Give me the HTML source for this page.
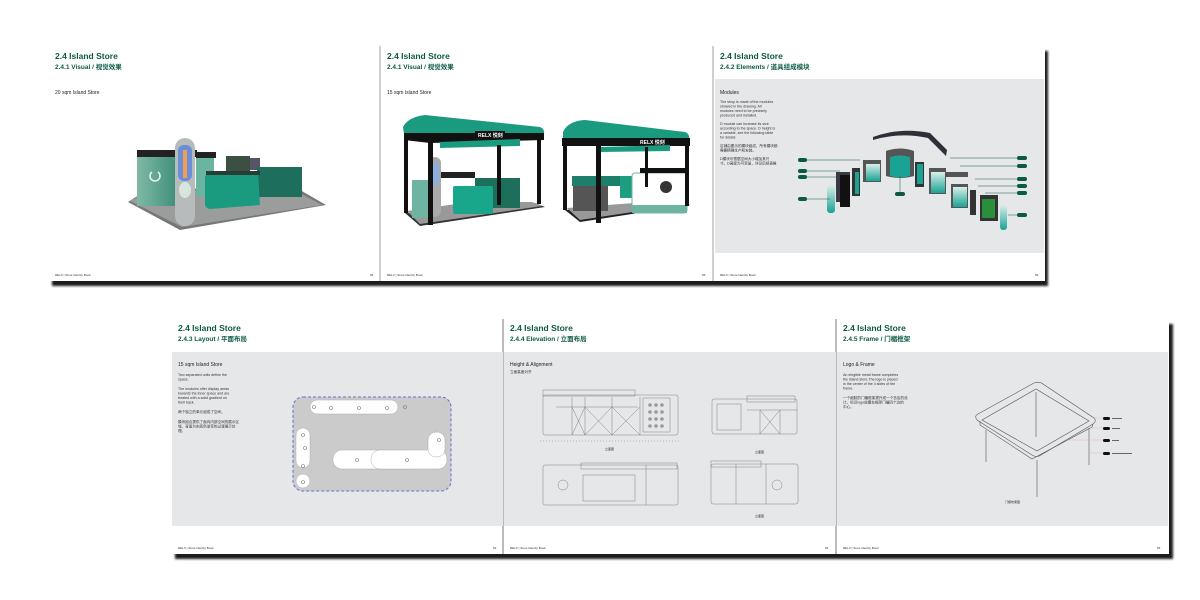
<!DOCTYPE html>
<html><head><meta charset="utf-8"><style>
html,body{margin:0;padding:0;background:#fff;width:1200px;height:600px;overflow:hidden}
svg{display:block}
.t1{font:bold 8.5px "Liberation Sans","Noto Sans CJK SC",sans-serif;fill:#0b5a45}
.t2{font:bold 6.5px "Liberation Sans","Noto Sans CJK SC",sans-serif;fill:#0b5a45}
.h{font:5px "Liberation Sans","Noto Sans CJK SC",sans-serif;fill:#222}
.p{font:3.6px "Liberation Sans","Noto Sans CJK SC",sans-serif;fill:#333}
.f{font:3px "Liberation Sans",sans-serif;fill:#333}
</style></head><body>
<svg width="1200" height="600" viewBox="0 0 1200 600" xmlns="http://www.w3.org/2000/svg">
<defs>
<filter id="sh" x="-5%" y="-5%" width="110%" height="115%"><feGaussianBlur stdDeviation="1"/></filter>
<linearGradient id="gw" x1="0" x2="1"><stop offset="0" stop-color="#7fb9a6"/><stop offset="1" stop-color="#3f8f7a"/></linearGradient>
<linearGradient id="tl" x1="0" y1="0" x2="0" y2="1"><stop offset="0" stop-color="#d8efea"/><stop offset="1" stop-color="#1aa394"/></linearGradient>
</defs>
<g filter="url(#sh)" fill="#1e1e1e">
<rect x="52" y="51" width="996" height="235"/>
<rect x="175" y="324" width="998" height="235"/>
</g>
<rect x="48" y="46" width="332" height="235" fill="#fff"/>
<rect x="380" y="46" width="333" height="235" fill="#fff"/>
<rect x="713" y="46" width="332" height="235" fill="#fff"/>
<rect x="171" y="319" width="332" height="235" fill="#fff"/>
<rect x="503" y="319" width="333" height="235" fill="#fff"/>
<rect x="836" y="319" width="333" height="235" fill="#fff"/>
<line x1="380" y1="46" x2="380" y2="281" stroke="#888" stroke-width="0.8"/>
<line x1="713" y1="46" x2="713" y2="281" stroke="#888" stroke-width="0.8"/>
<line x1="503" y1="319" x2="503" y2="554" stroke="#555" stroke-width="0.8"/>
<line x1="836" y1="319" x2="836" y2="554" stroke="#555" stroke-width="0.8"/>
<rect x="715" y="79" width="329" height="174" fill="#e6e7e8"/>
<rect x="172" y="352" width="331" height="174" fill="#e6e7e8"/>
<rect x="504" y="352" width="332" height="174" fill="#e6e7e8"/>
<rect x="837" y="352" width="331" height="174" fill="#e6e7e8"/>

<text x="55" y="59" class="t1">2.4 Island Store</text><text x="55" y="69" class="t2">2.4.1 Visual / 视觉效果</text>
<text x="387" y="59" class="t1">2.4 Island Store</text><text x="387" y="69" class="t2">2.4.1 Visual / 视觉效果</text>
<text x="720" y="59" class="t1">2.4 Island Store</text><text x="720" y="69" class="t2">2.4.2 Elements / 道具组成模块</text>
<text x="178" y="331" class="t1">2.4 Island Store</text><text x="178" y="341" class="t2">2.4.3 Layout / 平面布局</text>
<text x="510" y="331" class="t1">2.4 Island Store</text><text x="510" y="341" class="t2">2.4.4 Elevation / 立面布局</text>
<text x="843" y="331" class="t1">2.4 Island Store</text><text x="843" y="341" class="t2">2.4.5 Frame / 门楣框架</text>

<text x="55" y="276" class="f">RELX | Store Identity Book</text><text x="370" y="276" class="f">66</text>
<text x="387" y="276" class="f">RELX | Store Identity Book</text><text x="702" y="276" class="f">65</text>
<text x="720" y="276" class="f">RELX | Store Identity Book</text><text x="1035" y="276" class="f">69</text>
<text x="178" y="549" class="f">RELX | Store Identity Book</text><text x="493" y="549" class="f">52</text>
<text x="510" y="549" class="f">RELX | Store Identity Book</text><text x="825" y="549" class="f">53</text>
<text x="843" y="549" class="f">RELX | Store Identity Book</text><text x="1157" y="549" class="f">56</text>

<!-- Page 1 -->
<text x="55" y="94" class="h">20 sqm Island Store</text>
<polygon points="128,202 150,188 300,190 326,205 180,230" fill="#777"/>
<polygon points="130,201 152,190 298,192 322,205 182,227" fill="#9a9d9c"/>
<rect x="137" y="152" width="40" height="54" fill="url(#gw)"/>
<rect x="137" y="150" width="60" height="7" fill="#222"/>
<rect x="196" y="156" width="18" height="40" fill="#6ab4a2"/>
<rect x="196" y="152" width="20" height="6" fill="#222"/>
<rect x="226" y="156" width="24" height="20" fill="#3b5040"/>
<rect x="250" y="158" width="10" height="12" fill="#556"/>
<rect x="257" y="167" width="45" height="30" fill="#1d6e5a"/>
<path d="M205 177 Q206 173 212 173 L258 173 L260 205 L210 209 Q205 208 205 204Z" fill="#1a9b80"/>
<rect x="206" y="171" width="54" height="4" fill="#2a3c36"/>
<rect x="175" y="138" width="20" height="88" rx="10" fill="#b8bbbc"/>
<rect x="178" y="145" width="14" height="36" rx="6" fill="#6a8fd8"/>
<rect x="183" y="150" width="4" height="28" fill="#f0a050"/>
<ellipse cx="185" cy="190" rx="6" ry="8" fill="#d7e6dd"/>
<path d="M152 172 a5 5 0 1 0 6 0" fill="none" stroke="#e8f3ef" stroke-width="1.5"/>

<!-- Page 2 -->
<text x="387" y="94" class="h">15 sqm Island Store</text>
<polygon points="405,213 420,226 545,207 535,203" fill="#333"/>
<polygon points="407,211 420,224 542,206 532,202 470,202" fill="#999"/>
<rect x="412" y="180" width="18" height="38" fill="#6fb4a2"/>
<rect x="430" y="172" width="45" height="6" fill="#222"/>
<rect x="475" y="178" width="45" height="30" fill="#1d6e5a"/>
<rect x="453" y="186" width="40" height="28" rx="2" fill="#1aa68a"/>
<rect x="429" y="157" width="12" height="60" rx="6" fill="#aaa"/>
<rect x="431" y="163" width="8" height="22" rx="3" fill="#8ab0e0"/>
<path d="M403 127 Q408 117 425 115 L540 127 Q545 129 544 134 L404 134Z" fill="#1a9b80"/>
<path d="M404 133 L544 133 L544 140 L430 143 L404 140Z" fill="#111"/>
<path d="M440 142 L520 139 L520 146 L440 148Z" fill="#1a9b80"/>
<rect x="404" y="133" width="4" height="80" fill="#111"/>
<rect x="428" y="140" width="5" height="85" fill="#111"/>
<rect x="497" y="145" width="4" height="60" fill="#111"/>
<rect x="537" y="138" width="4" height="66" fill="#111"/>
<rect x="475" y="131" width="30" height="8" fill="#111"/>
<text x="478" y="137" style="font:bold 5px 'Liberation Sans','Noto Sans CJK SC',sans-serif;fill:#fff">RELX 悦刻</text>
<polygon points="565,210 580,222 690,205 680,200" fill="#222"/>
<polygon points="567,208 580,220 686,204 676,200" fill="#999"/>
<rect x="573" y="181" width="35" height="30" fill="#555"/>
<rect x="572" y="176" width="48" height="10" fill="#1d7e6a"/>
<rect x="620" y="176" width="30" height="22" fill="#1d9e80"/>
<rect x="632" y="173" width="55" height="40" rx="3" fill="#fff" stroke="#6fb4a2" stroke-width="1"/>
<rect x="632" y="205" width="55" height="8" fill="#6fb4a2"/>
<circle cx="666" cy="187" r="6" fill="#333"/>
<rect x="640" y="168" width="45" height="5" fill="#111"/>
<path d="M563 132 Q568 121 585 120 L685 132 Q690 134 689 139 L563 139Z" fill="#1a9b80"/>
<rect x="562" y="138" width="128" height="8" fill="#111"/>
<path d="M600 147 L670 145 L670 151 L600 152Z" fill="#1a9b80"/>
<rect x="563" y="140" width="4" height="70" fill="#111"/>
<rect x="596" y="145" width="5" height="78" fill="#111"/>
<rect x="645" y="147" width="3" height="40" fill="#111"/>
<rect x="685" y="140" width="4" height="66" fill="#111"/>
<text x="640" y="144" style="font:bold 5px 'Liberation Sans','Noto Sans CJK SC',sans-serif;fill:#fff">RELX 悦刻</text>

<!-- Page 3 -->
<text x="720" y="94" class="h">Modules</text>
<text class="p"><tspan x="720" y="103">The shop is made of the modules</tspan><tspan x="720" y="107.5">showed in the drawing. All</tspan><tspan x="720" y="112">modules need to be precisely</tspan><tspan x="720" y="116.5">produced and installed.</tspan><tspan x="720" y="125">D module can increase its size</tspan><tspan x="720" y="129.5">according to the space. D height is</tspan><tspan x="720" y="134">a variable, see the following table</tspan><tspan x="720" y="138.5">for details</tspan><tspan x="720" y="147">店铺由图示的模块组成，所有模块都</tspan><tspan x="720" y="151.5">需要精确生产和安装。</tspan><tspan x="720" y="160">D模块可根据空间大小增加其尺</tspan><tspan x="720" y="164.5">寸。D高度为可变量，详见后续表格</tspan></text>
<path d="M873 140 L873 137 Q900 127 930 133 L947 150 L946 156 L928 138 Q900 132 873 140Z" fill="#2f2f38"/>
<path d="M886 151 Q900 146 914 151 L914 176 Q900 180 886 176Z" fill="#555"/>
<path d="M890 157 Q900 154 910 157 L910 176 Q900 179 890 176Z" fill="#1aa394"/>
<rect x="863" y="160" width="18" height="22" fill="#555"/><rect x="866" y="164" width="14" height="17" fill="url(#tl)"/>
<rect x="852" y="168" width="8" height="28" fill="#333"/><rect x="855" y="172" width="4" height="22" fill="#1aa394"/>
<rect x="836" y="172" width="14" height="30" fill="#3a3a44"/><rect x="840" y="175" width="10" height="32" fill="#111"/>
<rect x="827" y="185" width="8" height="28" rx="3" fill="url(#tl)"/>
<rect x="915" y="162" width="9" height="25" fill="#333"/><rect x="917" y="164" width="6" height="20" fill="#1aa394"/>
<rect x="929" y="168" width="17" height="26" fill="#555"/><rect x="931" y="172" width="14" height="21" fill="url(#tl)"/>
<rect x="946" y="172" width="22" height="5" fill="#555"/>
<rect x="951" y="184" width="17" height="24" fill="#555"/><rect x="953" y="187" width="14" height="20" fill="url(#tl)"/>
<rect x="970" y="190" width="6" height="25" fill="#333"/>
<rect x="980" y="195" width="18" height="26" fill="#333"/><rect x="982" y="199" width="13" height="19" fill="#2a8f3a"/>
<rect x="1000" y="205" width="7" height="25" rx="3" fill="url(#tl)"/>
<g stroke="#0b5a45" stroke-width="0.5">
<line x1="806" y1="160" x2="860" y2="160"/><line x1="806" y1="171" x2="840" y2="171"/><line x1="806" y1="177" x2="838" y2="177"/><line x1="806" y1="199" x2="830" y2="199"/>
<line x1="900" y1="176" x2="900" y2="193"/>
<line x1="950" y1="158" x2="1018" y2="158"/><line x1="960" y1="166" x2="1018" y2="166"/><line x1="975" y1="179" x2="1018" y2="179"/><line x1="978" y1="186" x2="1018" y2="186"/><line x1="985" y1="193" x2="1018" y2="193"/><line x1="1008" y1="215" x2="1018" y2="215"/>
</g>
<g fill="#0b5a45">
<rect x="798" y="158" width="9" height="4" rx="2"/><rect x="798" y="169" width="9" height="4" rx="2"/><rect x="798" y="175" width="9" height="4" rx="2"/><rect x="798" y="197" width="9" height="4" rx="2"/>
<rect x="895" y="192" width="10" height="4" rx="2"/>
<rect x="1017" y="156" width="10" height="4" rx="2"/><rect x="1017" y="164" width="10" height="4" rx="2"/><rect x="1017" y="177" width="10" height="4" rx="2"/><rect x="1017" y="184" width="10" height="4" rx="2"/><rect x="1017" y="191" width="10" height="4" rx="2"/><rect x="1017" y="213" width="10" height="4" rx="2"/>
</g>

<!-- Page 4 -->
<text x="178" y="366" class="h">15 sqm Island Store</text>
<text class="p"><tspan x="178" y="376">Two separated units define the</tspan><tspan x="178" y="380.5">space.</tspan><tspan x="178" y="390">The modules offer display areas</tspan><tspan x="178" y="394.5">towards the inner space and are</tspan><tspan x="178" y="399">treated with a solid gradient on</tspan><tspan x="178" y="403.5">their back.</tspan><tspan x="178" y="413">两个独立的单元组成了空间。</tspan><tspan x="178" y="423">模块组合提供了面向内部空间的展示区</tspan><tspan x="178" y="427.5">域，背面为实底色渐变的过渡展示处</tspan><tspan x="178" y="432">理。</tspan></text>
<rect x="293" y="397" width="158" height="94" rx="10" fill="#cbcbcb" stroke="#6b6fc9" stroke-width="1" stroke-dasharray="3,2"/>
<rect x="310" y="400" width="88" height="14" rx="7" fill="#fff" stroke="#aaa" stroke-width="0.5"/>
<rect x="296" y="428" width="14" height="40" rx="7" fill="#fff" stroke="#aaa" stroke-width="0.5"/>
<circle cx="303" cy="481" r="7" fill="#fff" stroke="#aaa" stroke-width="0.5"/>
<rect x="333" y="450" width="85" height="19" rx="9" fill="#fff" stroke="#aaa" stroke-width="0.5"/>
<rect x="371" y="450" width="76" height="19" rx="9" fill="#fff" stroke="#aaa" stroke-width="0.5"/>
<rect x="428" y="432" width="17" height="25" rx="8" fill="#fff" stroke="#aaa" stroke-width="0.5"/>
<g fill="none" stroke="#777" stroke-width="0.6"><circle cx="314" cy="407" r="1.5"/><circle cx="331" cy="408" r="1.5"/><circle cx="359" cy="408" r="1.5"/><circle cx="387" cy="408" r="1.5"/><circle cx="405" cy="407" r="1.5"/><circle cx="303" cy="435" r="1.5"/><circle cx="305" cy="448" r="1.5"/><circle cx="303" cy="466" r="1.5"/><circle cx="303" cy="482" r="1.5"/><circle cx="357" cy="460" r="1.5"/><circle cx="407" cy="460" r="1.5"/><circle cx="439" cy="440" r="1.5"/></g>

<!-- Page 5 -->
<text x="510" y="366" class="h">Height &amp; Alignment</text>
<text x="510" y="373" class="p">立面高度对齐</text>
<g fill="none" stroke="#777" stroke-width="0.45">
<rect x="543" y="395" width="135" height="40" rx="2"/><rect x="543" y="390" width="92" height="6"/>
<line x1="556" y1="407" x2="638" y2="407"/><line x1="572" y1="397" x2="572" y2="435"/><line x1="585" y1="397" x2="585" y2="435"/><line x1="612" y1="397" x2="612" y2="435"/><line x1="640" y1="397" x2="640" y2="435"/>
<path d="M572 407 L585 435 M585 407 L572 435 M585 407 L612 435 M612 407 L585 435 M612 407 L640 435 M640 407 L612 435"/>
<rect x="643" y="398" width="27" height="34"/>
<rect x="712" y="399" width="85" height="35" rx="2"/><rect x="747" y="396" width="48" height="6"/><rect x="717" y="404" width="24" height="26"/>
<path d="M747 410 L797 410 M760 410 L760 434 M780 410 L780 434 M760 410 L780 434 M780 410 L760 434"/>
<rect x="543" y="465" width="135" height="40" rx="2"/><rect x="581" y="463" width="96" height="6"/><rect x="583" y="475" width="52" height="26"/><line x1="646" y1="465" x2="646" y2="505"/>
<circle cx="563" cy="485" r="5"/>
<rect x="711" y="464" width="87" height="40" rx="2"/><rect x="711" y="461" width="50" height="6"/><line x1="736" y1="464" x2="736" y2="504"/><line x1="766" y1="464" x2="766" y2="504"/>
<circle cx="777" cy="485" r="5"/>
<line x1="540" y1="441" x2="680" y2="441" stroke-dasharray="1,2"/>
</g>
<g fill="#999"><circle cx="650" cy="405" r="1.8"/><circle cx="656" cy="405" r="1.8"/><circle cx="662" cy="405" r="1.8"/><circle cx="650" cy="412" r="1.8"/><circle cx="656" cy="412" r="1.8"/><circle cx="662" cy="412" r="1.8"/><circle cx="650" cy="419" r="1.8"/><circle cx="656" cy="419" r="1.8"/><circle cx="662" cy="419" r="1.8"/><circle cx="650" cy="426" r="1.8"/><circle cx="656" cy="426" r="1.8"/><circle cx="662" cy="426" r="1.8"/></g>
<text x="605" y="450" class="f">立面图</text><text x="755" y="453" class="f">立面图</text><text x="755" y="517" class="f">立面图</text>

<!-- Page 6 -->
<text x="843" y="366" class="h">Logo &amp; Frame</text>
<text class="p"><tspan x="843" y="376">An elegible metal frame completes</tspan><tspan x="843" y="380.5">the island store.The logo is placed</tspan><tspan x="843" y="385">in the center of the 4 sides of the</tspan><tspan x="843" y="389.5">frame.</tspan><tspan x="843" y="399">一个细腻的门楣框架提升成一个岛店的设</tspan><tspan x="843" y="403.5">计。标识logo放置在框架门楣四个边的</tspan><tspan x="843" y="408">中心。</tspan></text>
<g fill="none" stroke="#555" stroke-width="0.6">
<path d="M977 420 Q974 416 978 414 L1034 383 Q1039 381 1043 384 L1094 418 Q1097 421 1093 424 L1041 455 Q1037 458 1032 455Z"/>
<path d="M982 420 L1036 389 L1089 421 L1037 451Z"/>
<path d="M980 421 L980 425 L1032 459 L1092 427 L1093 424"/>
<line x1="986" y1="430" x2="986" y2="462"/><line x1="1037" y1="460" x2="1037" y2="497"/><line x1="1089" y1="428" x2="1089" y2="465"/><line x1="1036" y1="392" x2="1036" y2="437"/>
</g>
<g stroke="#d9a6d6" stroke-width="0.4"><line x1="1094" y1="418" x2="1103" y2="418"/><line x1="1090" y1="428" x2="1103" y2="428"/><line x1="1065" y1="440" x2="1103" y2="440"/><line x1="1090" y1="453" x2="1103" y2="453"/></g>
<g fill="#111"><rect x="1103" y="417" width="7" height="3" rx="1.5"/><rect x="1103" y="427" width="7" height="3" rx="1.5"/><rect x="1103" y="439" width="7" height="3" rx="1.5"/><rect x="1103" y="452" width="7" height="3" rx="1.5"/></g>
<g fill="#666"><rect x="1112" y="418" width="10" height="1"/><rect x="1112" y="428" width="8" height="1"/><rect x="1112" y="440" width="7" height="1"/><rect x="1112" y="453" width="20" height="1"/></g>
<text x="1005" y="503" class="f">门楣效果图</text>
</svg>
</body></html>
